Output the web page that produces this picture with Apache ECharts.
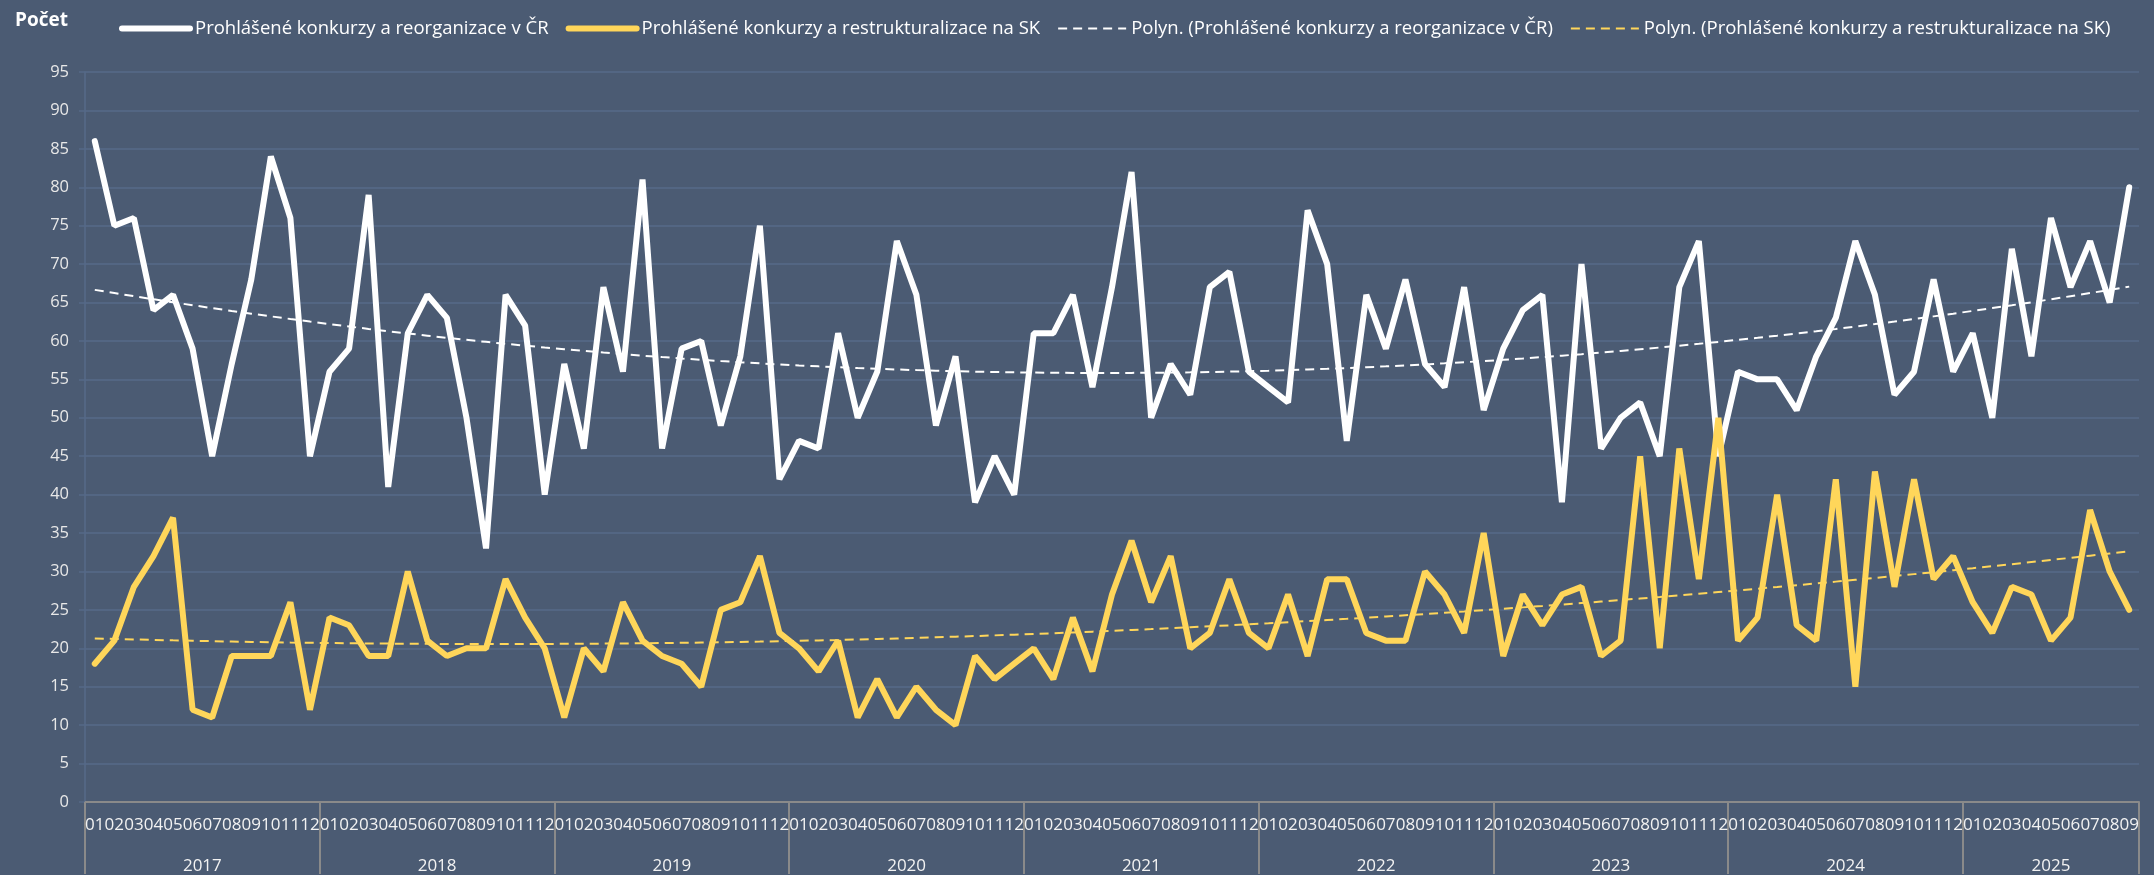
<!DOCTYPE html>
<html>
<head>
<meta charset="utf-8">
<script src="https://cdn.jsdelivr.net/npm/echarts@6/dist/echarts.min.js"></script>
<style>
  html, body { margin: 0; padding: 0; background: #4b5b73; }
  #chart { width: 2154px; height: 875px; }
</style>
</head>
<body>
<div id="chart"></div>
<script>
// data
var years = ['2017', '2018', '2019', '2020', '2021', '2022', '2023', '2024', '2025']
var monthsPerYear = [12, 12, 12, 12, 12, 12, 12, 12, 9]
var monthNames = ['01', '02', '03', '04', '05', '06', '07', '08', '09', '10', '11', '12']
var yTicks = { min: 0, max: 95, step: 5 }

var czValues = [
  86, 75, 76, 64, 66, 59, 45, 57, 68, 84, 76, 45,
  56, 59, 79, 41, 61, 66, 63, 50, 33, 66, 62, 40,
  57, 46, 67, 56, 81, 46, 59, 60, 49, 58, 75, 42,
  47, 46, 61, 50, 56, 73, 66, 49, 58, 39, 45, 40,
  61, 61, 66, 54, 67, 82, 50, 57, 53, 67, 69, 56,
  54, 52, 77, 70, 47, 66, 59, 68, 57, 54, 67, 51,
  59, 64, 66, 39, 70, 46, 50, 52, 45, 67, 73, 45,
  56, 55, 55, 51, 58, 63, 73, 66, 53, 56, 68, 56,
  61, 50, 72, 58, 76, 67, 73, 65, 80
]
var skValues = [
  18, 21, 28, 32, 37, 12, 11, 19, 19, 19, 26, 12,
  24, 23, 19, 19, 30, 21, 19, 20, 20, 29, 24, 20,
  11, 20, 17, 26, 21, 19, 18, 15, 25, 26, 32, 22,
  20, 17, 21, 11, 16, 11, 15, 12, 10, 19, 16, 18,
  20, 16, 24, 17, 27, 34, 26, 32, 20, 22, 29, 22,
  20, 27, 19, 29, 29, 22, 21, 21, 30, 27, 22, 35,
  19, 27, 23, 27, 28, 19, 21, 45, 20, 46, 29, 50,
  21, 24, 40, 23, 21, 42, 15, 43, 28, 42, 29, 32,
  26, 22, 28, 27, 21, 24, 38, 30, 25
]

var nameCz = 'Prohlášené konkurzy a reorganizace v ČR'
var nameSk = 'Prohlášené konkurzy a restrukturalizace na SK'
var nameCzTrend = 'Polyn. (Prohlášené konkurzy a reorganizace v ČR)'
var nameSkTrend = 'Polyn. (Prohlášené konkurzy a restrukturalizace na SK)'

var FONT = 'Open Sans'
var GRID_COLOR = '#566a88'
var AXIS_GRAY = '#8a8a8a'
var YELLOW = '#ffd65a'
var DASH = [9, 6]

// month categories and year boundaries / centres on the category scale
var monthCats = []
var yearBounds = [0]
var yearCenters = []
years.forEach(function (y, i) {
  var start = yearBounds[i]
  for (var m = 0; m < monthsPerYear[i]; m++) monthCats.push(monthNames[m])
  yearCenters.push(start + monthsPerYear[i] / 2)
  yearBounds.push(start + monthsPerYear[i])
})
var total = monthCats.length

// Excel style polynomial trendline (order 2), least squares fit of the series
function quadTrend (values) {
  var s = [0, 0, 0, 0, 0]
  var t = [0, 0, 0]
  values.forEach(function (y, i) {
    var x = i + 1
    for (var k = 0; k < 5; k++) s[k] += Math.pow(x, k)
    for (var j = 0; j < 3; j++) t[j] += y * Math.pow(x, j)
  })
  var m = [[s[0], s[1], s[2]], [s[1], s[2], s[3]], [s[2], s[3], s[4]]]
  var det = function (a) {
    return a[0][0] * (a[1][1] * a[2][2] - a[1][2] * a[2][1]) -
      a[0][1] * (a[1][0] * a[2][2] - a[1][2] * a[2][0]) +
      a[0][2] * (a[1][0] * a[2][1] - a[1][1] * a[2][0])
  }
  var d = det(m)
  var coef = [0, 1, 2].map(function (j) {
    return det(m.map(function (row, r) {
      return row.map(function (v, c) { return c === j ? t[r] : v })
    })) / d
  })
  return values.map(function (_, i) {
    var x = i + 1
    return +(coef[0] + coef[1] * x + coef[2] * x * x).toFixed(3)
  })
}

var chart = echarts.init(document.getElementById('chart'))
chart.setOption({
  animation: false,
  backgroundColor: '#4b5b73',
  textStyle: { fontFamily: FONT },
  title: {
    text: 'Počet',
    left: 10,
    top: 6,
    textStyle: { color: '#ffffff', fontSize: 19, fontWeight: 'bold', fontFamily: FONT }
  },
  legend: {
    left: 114,
    top: 14,
    itemWidth: 68,
    itemHeight: 12,
    itemGap: 17,
    itemStyle: { opacity: 0 },
    textStyle: { color: '#ffffff', fontSize: 18.5, fontFamily: FONT },
    data: [
      { name: nameCz, lineStyle: { color: '#ffffff', width: 6, cap: 'round' } },
      { name: nameSk, lineStyle: { color: YELLOW, width: 6, cap: 'round' } },
      { name: nameCzTrend, lineStyle: { color: '#ffffff', width: 2, type: DASH } },
      { name: nameSkTrend, lineStyle: { color: YELLOW, width: 2, type: DASH } }
    ]
  },
  grid: { left: 85, right: 15, top: 72, bottom: 72 },
  xAxis: [
    {
      type: 'category',
      data: monthCats,
      boundaryGap: true,
      axisLine: { lineStyle: { color: AXIS_GRAY, width: 2 } },
      axisTick: { interval: 0, length: 37, lineStyle: { color: AXIS_GRAY, width: 2 } },
      axisLabel: { interval: 0, margin: 15, color: '#f2f2f2', fontSize: 17, fontFamily: FONT }
    },
    {
      type: 'value',
      position: 'bottom',
      min: 0,
      max: total,
      axisLine: { show: false, onZero: false },
      splitLine: { show: false },
      axisTick: {
        show: true,
        customValues: yearBounds,
        length: 72,
        lineStyle: { color: AXIS_GRAY, width: 2 }
      },
      axisLabel: {
        customValues: yearCenters,
        margin: 56,
        color: '#f2f2f2',
        fontSize: 17,
        fontFamily: FONT,
        formatter: function (v) {
          var i = yearCenters.indexOf(v)
          return i >= 0 ? years[i] : ''
        }
      }
    }
  ],
  yAxis: {
    type: 'value',
    min: yTicks.min,
    max: yTicks.max,
    interval: yTicks.step,
    axisLine: { show: true, onZero: false, lineStyle: { color: GRID_COLOR, width: 1.5 } },
    axisTick: { show: true, length: 6, lineStyle: { color: GRID_COLOR, width: 1.5 } },
    axisLabel: { margin: 16, color: '#e8e8e8', fontSize: 16.5, fontFamily: FONT },
    splitLine: { lineStyle: { color: GRID_COLOR, width: 1.5 } }
  },
  series: [
    {
      name: nameCz,
      type: 'line',
      data: czValues,
      symbol: 'none',
      color: '#ffffff',
      lineStyle: { color: '#ffffff', width: 6, cap: 'round' }
    },
    {
      name: nameSk,
      type: 'line',
      data: skValues,
      symbol: 'none',
      color: YELLOW,
      lineStyle: { color: YELLOW, width: 6, cap: 'round' }
    },
    {
      name: nameCzTrend,
      type: 'line',
      data: quadTrend(czValues),
      symbol: 'none',
      color: '#ffffff',
      lineStyle: { color: '#ffffff', width: 2, type: DASH }
    },
    {
      name: nameSkTrend,
      type: 'line',
      data: quadTrend(skValues),
      symbol: 'none',
      color: YELLOW,
      lineStyle: { color: YELLOW, width: 2, type: DASH }
    }
  ]
})
</script>
</body>
</html>
